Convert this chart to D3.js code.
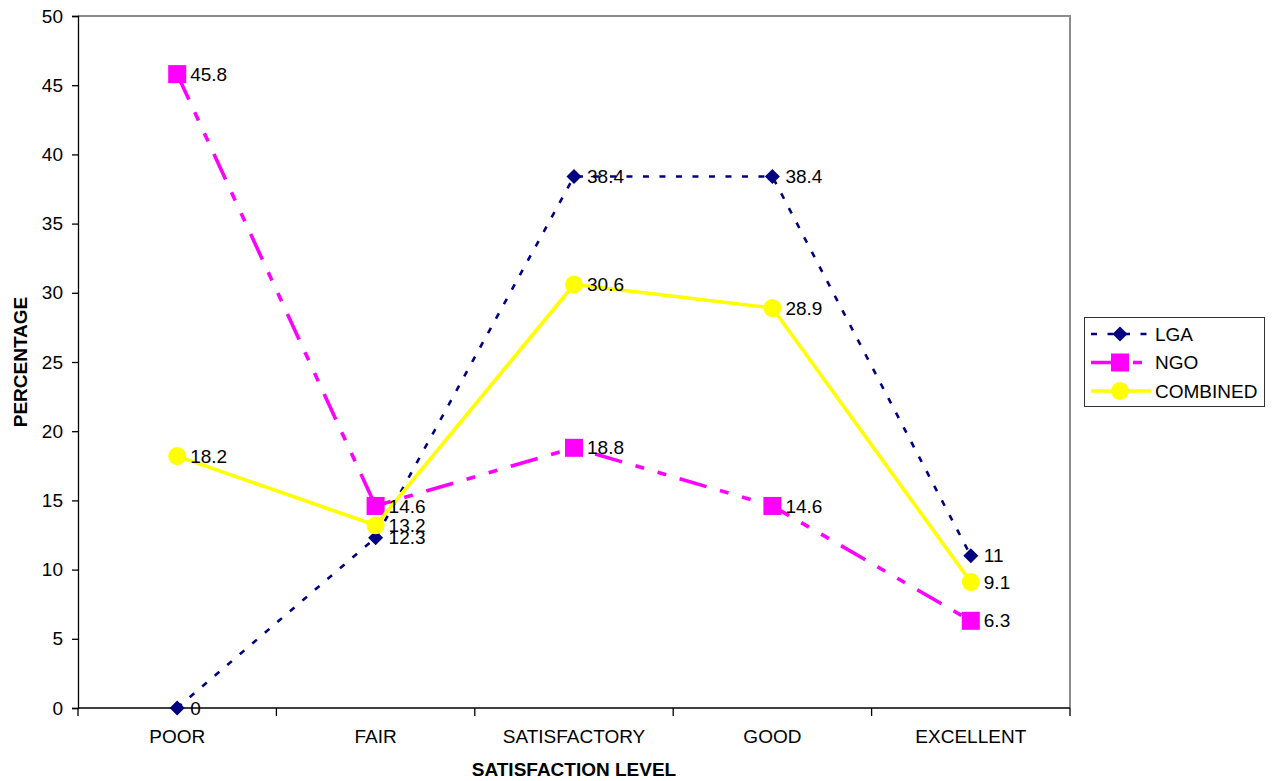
<!DOCTYPE html>
<html>
<head>
<meta charset="utf-8">
<script src="https://cdn.jsdelivr.net/npm/d3@7"></script>
<style>
  html, body { margin: 0; padding: 0; background: #fff; }
  svg { display: block; font-family: "Liberation Sans", Arial, sans-serif; }
</style>
</head>
<body>
<svg id="chart" width="1272" height="781"></svg>
<script>
// Satisfaction level categories and series percentages
const categories = ["POOR", "FAIR", "SATISFACTORY", "GOOD", "EXCELLENT"];
const lgaValues = [0, 12.3, 38.4, 38.4, 11];
const ngoValues = [45.8, 14.6, 18.8, 14.6, 6.3];
const combinedValues = [18.2, 13.2, 30.6, 28.9, 9.1];
const yTicks = [0, 5, 10, 15, 20, 25, 30, 35, 40, 45, 50];
const seriesNames = ["LGA", "NGO", "COMBINED"];

const series = [
  { name: seriesNames[0], values: lgaValues, color: "#000080", width: 2.6, dash: "6,10.5", marker: "diamond" },
  { name: seriesNames[1], values: ngoValues, color: "#FF00FF", width: 3.6, dash: "28,14,9,14,9,14", marker: "square" },
  { name: seriesNames[2], values: combinedValues, color: "#FFFF00", width: 3.6, dash: null, marker: "circle" }
];

const FONT = "19px";

const svg = d3.select("#chart");
const plot = { left: 78, right: 1070, top: 16, bottom: 708 };

const x = d3.scaleBand().domain(categories).range([plot.left, plot.right]).padding(0);
const y = d3.scaleLinear().domain([0, 50]).range([plot.bottom, plot.top]);
const cx = c => x(c) + x.bandwidth() / 2;

// Plot area frame (top and right edges)
svg.append("path")
  .attr("d", `M${plot.left},${plot.top}H${plot.right}V${plot.bottom}`)
  .attr("fill", "none").attr("stroke", "#8c8c8c").attr("stroke-width", 2);

// Y axis
const yAxis = svg.append("g")
  .attr("transform", `translate(${plot.left},0)`)
  .call(d3.axisLeft(y).tickValues(yTicks).tickSize(6).tickPadding(9).tickFormat(d3.format("d")));
yAxis.select(".domain").attr("stroke", "#000").attr("stroke-width", 1.3);
yAxis.selectAll(".tick line").attr("stroke", "#000").attr("stroke-width", 1.3);
yAxis.selectAll(".tick text").attr("font-size", FONT).attr("fill", "#000")
  .attr("font-family", "Liberation Sans, Arial, sans-serif");

// X axis: tick marks at category boundaries, labels centered in each band
const xAxisG = svg.append("g").attr("transform", `translate(0,${plot.bottom})`);
xAxisG.append("line")
  .attr("x1", plot.left).attr("x2", plot.right)
  .attr("stroke", "#000").attr("stroke-width", 1.3);
const boundaries = categories.map(c => x(c)).concat([plot.right]);
xAxisG.selectAll("line.tk").data(boundaries).join("line")
  .attr("class", "tk")
  .attr("x1", d => d).attr("x2", d => d)
  .attr("y1", 0).attr("y2", 8)
  .attr("stroke", "#000").attr("stroke-width", 1.3);
xAxisG.selectAll("text").data(categories).join("text")
  .attr("x", d => cx(d)).attr("y", 35)
  .attr("text-anchor", "middle")
  .attr("font-size", FONT).attr("fill", "#000")
  .text(d => d);

// Axis titles
svg.append("text")
  .attr("x", (plot.left + plot.right) / 2).attr("y", 776)
  .attr("text-anchor", "middle").attr("font-weight", "bold").attr("font-size", FONT)
  .text("SATISFACTION LEVEL");
svg.append("text")
  .attr("transform", `translate(27,${(plot.top + plot.bottom) / 2}) rotate(-90)`)
  .attr("text-anchor", "middle").attr("font-weight", "bold").attr("font-size", FONT)
  .text("PERCENTAGE");

// Marker drawing helper
function drawMarker(sel, type, color) {
  if (type === "diamond") {
    sel.append("path").attr("d", "M0,-7.5L7.5,0L0,7.5L-7.5,0Z").attr("fill", color);
  } else if (type === "square") {
    sel.append("rect").attr("x", -9).attr("y", -9).attr("width", 18).attr("height", 18).attr("fill", color);
  } else {
    sel.append("circle").attr("r", 9).attr("fill", color);
  }
}

const line = d3.line().x((d, i) => cx(categories[i])).y(d => y(d));

// Series lines and markers
series.forEach(s => {
  const g = svg.append("g");
  g.append("path")
    .attr("d", line(s.values))
    .attr("fill", "none")
    .attr("stroke", s.color)
    .attr("stroke-width", s.width)
    .attr("stroke-dasharray", s.dash)
    .attr("stroke-linejoin", "round");
  s.values.forEach((v, i) => {
    const m = g.append("g").attr("transform", `translate(${cx(categories[i])},${y(v)})`);
    drawMarker(m, s.marker, s.color);
  });
});

// Value labels
series.forEach(s => {
  svg.append("g").selectAll("text").data(s.values).join("text")
    .attr("x", (d, i) => cx(categories[i]) + 13)
    .attr("y", d => y(d))
    .attr("dy", "0.35em")
    .attr("font-size", FONT).attr("fill", "#000")
    .text(d => d);
});

// Legend
const legend = svg.append("g");
legend.append("rect")
  .attr("x", 1084.5).attr("y", 317.5).attr("width", 180).attr("height", 89)
  .attr("fill", "#fff").attr("stroke", "#333").attr("stroke-width", 1);
series.forEach((s, i) => {
  const ly = 334 + i * 28.5;
  legend.append("line")
    .attr("x1", 1091).attr("x2", 1151).attr("y1", ly).attr("y2", ly)
    .attr("stroke", s.color).attr("stroke-width", s.width)
    .attr("stroke-dasharray", s.dash);
  const m = legend.append("g").attr("transform", `translate(1120,${ly})`);
  drawMarker(m, s.marker, s.color);
  legend.append("text")
    .attr("x", 1155).attr("y", ly).attr("dy", "0.35em")
    .attr("font-size", FONT).attr("fill", "#000")
    .text(s.name);
});
</script>
</body>
</html>
